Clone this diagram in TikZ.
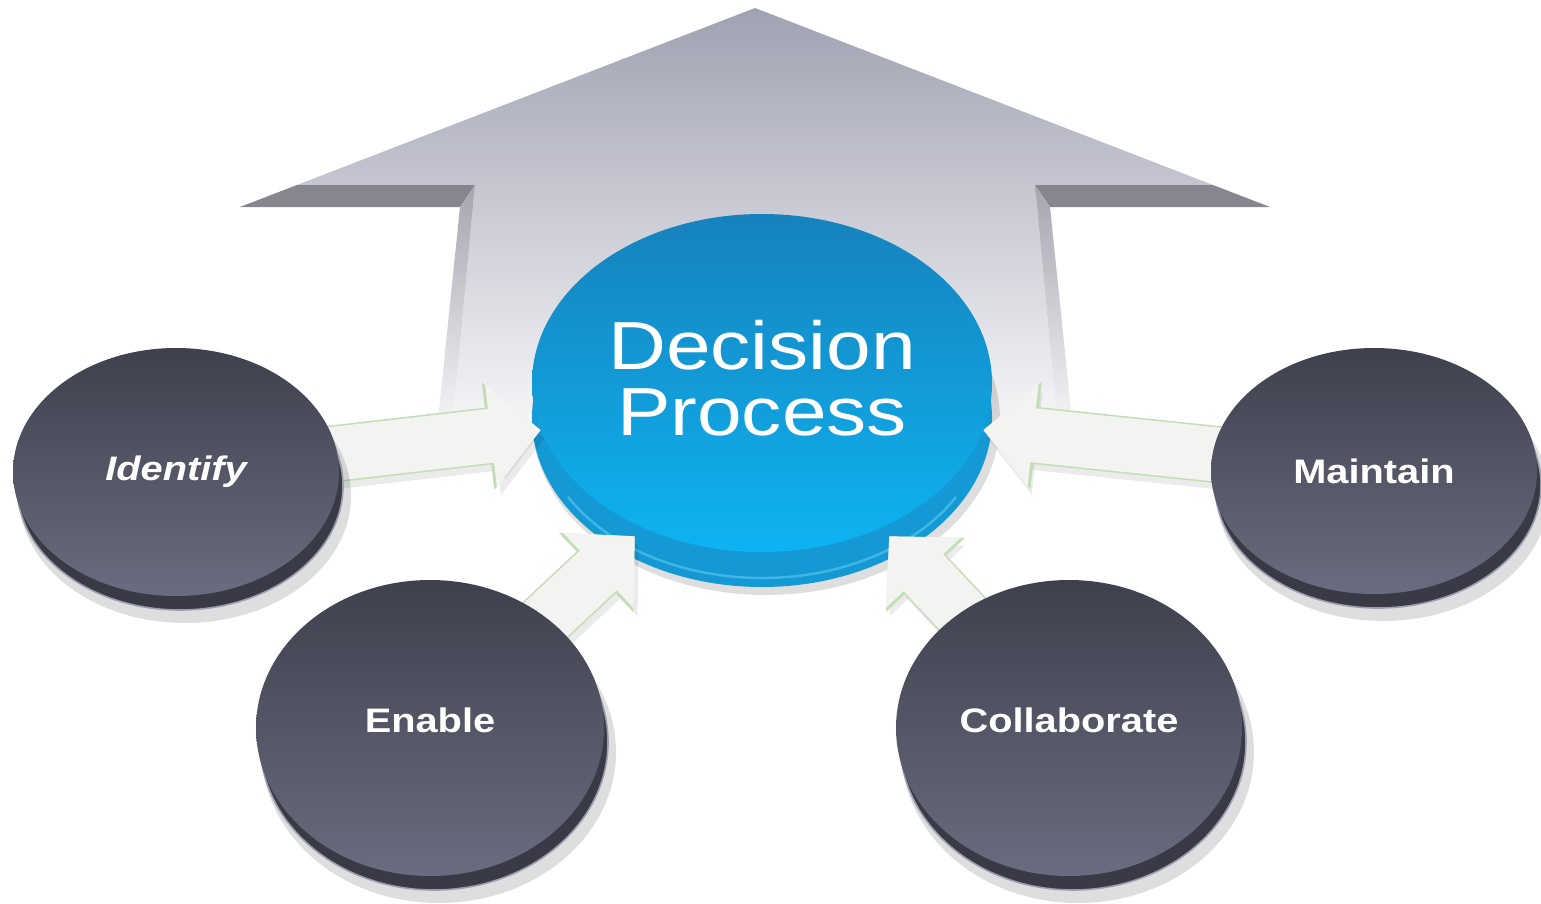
\documentclass[tikz,border=0pt]{standalone}
\usepackage{fontspec}
\setmainfont{Liberation Sans}
\newfontfamily\hubfont[FakeStretch=1.18]{Liberation Sans}
\newfontfamily\stationfont[FakeStretch=1.17]{Liberation Sans}
\usetikzlibrary{
    arrows.meta,
    shapes.geometric,
    calc,
    positioning
}

\definecolor{headtop}{HTML}{A0A2B2}
\definecolor{shaftbot}{HTML}{F7F7F9}
\definecolor{headedge}{HTML}{86878E}
\definecolor{bevel}{HTML}{A4A5AE}
\definecolor{bluetop}{HTML}{1682BD}
\definecolor{bluebot}{HTML}{0EB3F1}
\definecolor{blueside}{HTML}{1499D5}
\definecolor{bluerim}{HTML}{6AD6F8}
\definecolor{disctop}{HTML}{3F404D}
\definecolor{discbot}{HTML}{6A6C7F}
\definecolor{discside}{HTML}{393A45}
\definecolor{discrim}{HTML}{9C9EAD}
\definecolor{arrowfill}{HTML}{F3F4F2}
\definecolor{arrowedge}{HTML}{C4DCB8}

\pgfdeclarelayer{back}
\pgfdeclarelayer{hubplane}
\pgfdeclarelayer{middle}
\pgfsetlayers{back,hubplane,middle,main}

\tikzset{
    station/.style={ellipse, inner sep=0pt, top color=disctop, bottom color=discbot,
        text=white, font=\stationfont\fontsize{17pt}{19pt}\selectfont\bfseries},
    stationside/.style={fill=discside, draw=discrim, line width=0.8pt},
    softshadow/.style={fill=black, opacity=0.13},
    hub/.style={ellipse, inner sep=0pt, top color=bluetop, bottom color=bluebot,
        minimum width=230pt, minimum height=169pt, align=center, text=white,
        text depth=5pt, font=\hubfont\fontsize{34pt}{33pt}\selectfont},
    flowshadow/.style={line width=27pt, black, opacity=0.08,
        transform canvas={shift={(2pt,-4pt)}}, -{Triangle[width=50pt,length=25pt]}},
    flowedge/.style={line width=28.6pt, arrowedge, -{Triangle[width=52.5pt,length=26.5pt]}},
    flowbody/.style={line width=27pt, arrowfill, -{Triangle[width=50pt,length=25pt]}}
}

\begin{document}
\begin{tikzpicture}[x=0.5pt, y=0.5pt]
    \useasboundingbox (0,0) rectangle (1541,-904);

    \begin{pgfonlayer}{back}
        \shade[top color=headtop, bottom color=shaftbot]
            (755,-8) -- (1213,-185) -- (1035,-185) -- (1058,-430)
            -- (452,-430) -- (475,-185) -- (297,-185) -- cycle;
        \fill[headedge] (297,-185) -- (240,-207) -- (460,-207) -- (475,-185) -- cycle;
        \fill[headedge] (1213,-185) -- (1270,-207) -- (1050,-207) -- (1035,-185) -- cycle;
        \shade[top color=bevel, bottom color=shaftbot]
            (475,-185) -- (460,-207) -- (437,-430) -- (452,-430) -- cycle;
        \shade[top color=bevel, bottom color=shaftbot]
            (1035,-185) -- (1050,-207) -- (1073,-430) -- (1058,-430) -- cycle;
    \end{pgfonlayer}

    \begin{pgfonlayer}{hubplane}
        \fill[softshadow] (766,-420) ellipse [x radius=234, y radius=175];
        \fill[blueside] (762,-418) ellipse [x radius=230, y radius=169];
        \draw[bluerim, line width=1.2pt, opacity=0.5]
            ([shift={(210:224 and 162)}]762,-416) arc[start angle=210, end angle=330, x radius=224, y radius=162];
        \node[hub] (decision) at (762,-383) {Decision\\Process};
    \end{pgfonlayer}

    \foreach \n/\x/\y/\w/\h/\d/\t in {
        identify/176/-472/163/124/3.6pt/{\itshape Identify},
        maintain/1374/-471/163/123/0pt/Maintain,
        enable/430/-728/174/148/8pt/Enable,
        collaborate/1069/-728/173/148/8pt/Collaborate}
    {
        \fill[softshadow] (\x+9,\y-24) ellipse [x radius=\w+3, y radius=\h+3];
        \filldraw[stationside] (\x+4,\y-14) ellipse [x radius=\w, y radius=\h];
        \node[station, minimum width=\w pt, minimum height=\h pt, text depth=\d] (\n) at (\x,\y) {\t};
    }

    \begin{pgfonlayer}{middle}
        \foreach \n/\a/\s in {identify/192/0, maintain/348/0, enable/228/-6, collaborate/312/-6}
        {
            \draw[flowshadow] (\n.center) -- ([yshift=\s pt]decision.\a);
            \draw[flowedge] (\n.center) -- ([yshift=\s pt]decision.\a);
            \draw[flowbody] (\n.center) -- ([yshift=\s pt]decision.\a);
        }
    \end{pgfonlayer}
\end{tikzpicture}
\end{document}
